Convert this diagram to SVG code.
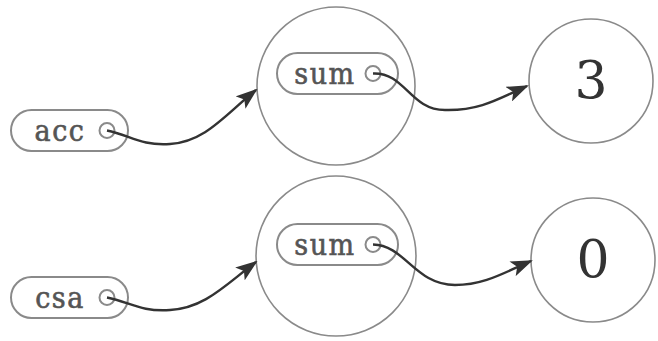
<svg xmlns="http://www.w3.org/2000/svg" width="658" height="341" viewBox="0 0 658 341">
<style>
.big{fill:#fff;stroke:#8a8a8a;stroke-width:1.6}
.pill{fill:#fff;stroke:#8a8a8a;stroke-width:2}
.port{fill:#fff;stroke:#8a8a8a;stroke-width:2}
.lbl{font-family:"DejaVu Serif","Liberation Serif",serif;font-stretch:condensed;font-size:30px;letter-spacing:1.5px;fill:#555;stroke:#555;stroke-width:0.6;text-anchor:middle;dominant-baseline:central}
.val{font-family:"DejaVu Serif","Liberation Serif",serif;font-size:52px;fill:#333;text-anchor:middle;dominant-baseline:central}
.edge{fill:none;stroke:#333;stroke-width:2.4}
</style>
<defs>
<marker id="ah" viewBox="0 0 22 16" refX="20" refY="8" markerWidth="22" markerHeight="16" markerUnits="userSpaceOnUse" orient="auto">
<path d="M0,0 L22,8 L0,16 L5,8 Z" fill="#333"/>
</marker>
</defs>
<g id="acc">
<rect class="pill" x="11" y="110" width="117" height="41" rx="20.5"/>
<text class="lbl" x="60" y="130">acc</text>
<circle class="port" cx="107" cy="130.5" r="7.5"/>
</g>
<g id="sum1">
<circle class="big" cx="336" cy="86" r="79"/>
<rect class="pill" x="277" y="53" width="121" height="41" rx="20.5"/>
<text class="lbl" x="325" y="73">sum</text>
<circle class="port" cx="373" cy="73.5" r="7.5"/>
</g>
<g id="v3">
<circle class="big" cx="591" cy="81" r="62"/>
<text class="val" x="591" y="80">3</text>
</g>
<g id="csa">
<rect class="pill" x="11" y="277" width="117" height="41" rx="20.5"/>
<text class="lbl" x="60" y="297">csa</text>
<circle class="port" cx="107" cy="297.5" r="7.5"/>
</g>
<g id="sum2">
<circle class="big" cx="336" cy="256" r="80"/>
<rect class="pill" x="277" y="224" width="121" height="41" rx="20.5"/>
<text class="lbl" x="325" y="244">sum</text>
<circle class="port" cx="373" cy="244.5" r="7.5"/>
</g>
<g id="v0">
<circle class="big" cx="593" cy="260" r="62"/>
<text class="val" x="593" y="259">0</text>
</g>
<g id="connectors">
<path class="edge" d="M107,130.5 C130,135 140,146 170,144 C205,142 225,115 256,90" marker-end="url(#ah)"/>
<path class="edge" d="M373,73.5 C405,72 410,110 445,110 C480,111 500,98 527,86" marker-end="url(#ah)"/>
<path class="edge" d="M107,297.5 C130,302 140,312 170,310 C205,308 225,285 256,262" marker-end="url(#ah)"/>
<path class="edge" d="M373,244.5 C405,245 415,285 455,285 C485,285 505,272 531,261" marker-end="url(#ah)"/>
</g>
</svg>
